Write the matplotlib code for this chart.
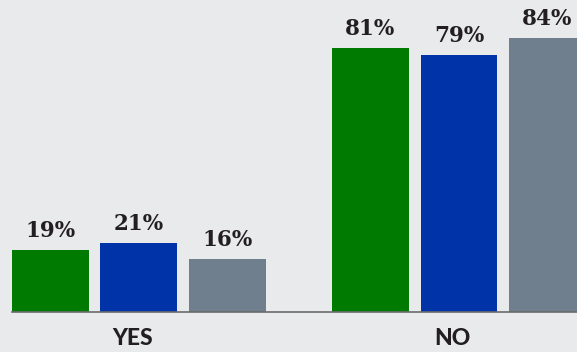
import numpy as np
import matplotlib.pyplot as plt

# survey answers, three series per answer group
groups = ['YES', 'NO']
series_a = [19, 81]
series_b = [21, 79]
series_c = [16, 84]
colors = ['#007a00', '#0033a8', '#6f7f8e']

bg = '#e9eaec'
fig = plt.figure(figsize=(5.77, 3.52), dpi=100, facecolor=bg)
ax = fig.add_axes([0, 0.115, 1, 0.885], facecolor=bg)

x = np.arange(len(groups))
width = 0.24
step = 0.277

for i, (vals, c) in enumerate(zip([series_a, series_b, series_c], colors)):
    pos = x + (i - 1) * step
    bars = ax.bar(pos, vals, width=width, color=c, zorder=2)
    for b, v in zip(bars, vals):
        ax.text(b.get_x() + b.get_width() / 2, v + 4.0, f'{v}%',
                ha='center', va='baseline', fontsize=15.5, fontweight='bold',
                family='DejaVu Serif', color='#231f20')

ax.set_xlim(-0.434, 1.369)
ax.set_ylim(0, 95.8)

for s in ['top', 'right', 'left']:
    ax.spines[s].set_visible(False)
ax.spines['bottom'].set_color('#6b6b6b')
ax.spines['bottom'].set_linewidth(1.2)
ax.spines['bottom'].set_bounds(-step - width / 2, 1.369)
ax.spines['bottom'].set_zorder(3)

ax.set_yticks([])
ax.set_xticks(x - 0.02)
ax.set_xticklabels(groups, fontsize=16.5, fontweight='black', family='Lato',
                   color='#231f20')
ax.tick_params(axis='x', length=0, pad=12)

fig.savefig('out.png', dpi=100, facecolor=bg)
